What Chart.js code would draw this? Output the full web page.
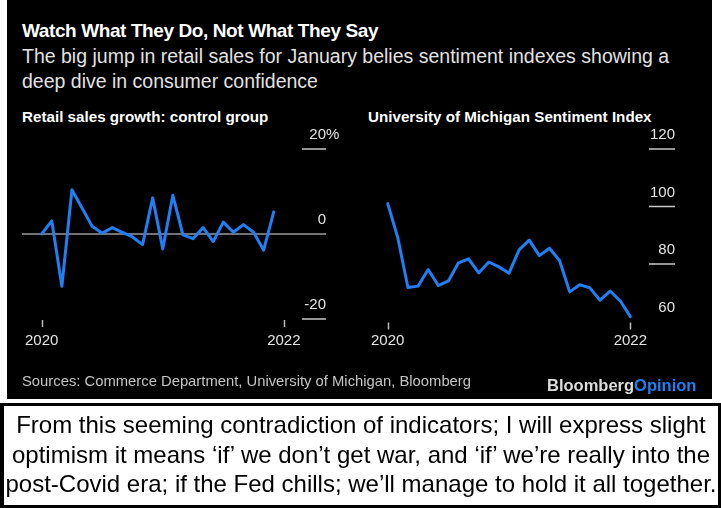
<!DOCTYPE html>
<html>
<head>
<meta charset="utf-8">
<script src="https://cdn.jsdelivr.net/npm/chart.js@4.4.1/dist/chart.umd.min.js"></script>
<style>
  html, body { margin: 0; padding: 0; background: #fff; }
  body { width: 721px; height: 508px; position: relative; overflow: hidden; font-family: "Liberation Sans", Arial, sans-serif; }
  .panel { position: absolute; left: 7px; top: 0; width: 705px; height: 399px; background: #000; }
  .txt { position: absolute; white-space: nowrap; }
  #title { left: 22px; top: 19px; font-size: 19px; font-weight: bold; color: #fff; line-height: 24px; letter-spacing: -0.4px; }
  #subtitle { left: 22px; top: 43.5px; font-size: 19.5px; color: #e2e2e2; line-height: 25px; }
  .ptitle { top: 108px; font-size: 15.2px; font-weight: bold; color: #fff; line-height: 18px; }
  #sources { left: 22px; top: 372px; font-size: 14.8px; color: #c4c4c4; line-height: 18px; }
  #brand { left: 547px; top: 375px; font-size: 16.5px; font-weight: bold; color: #dcdcdc; line-height: 20px; }
  #brand span { color: #1f7ff0; }
  canvas { position: absolute; top: 0; }
  #leftWrap { position: absolute; left: 0; top: 0; width: 360px; height: 400px; }
  #rightWrap { position: absolute; left: 360px; top: 0; width: 361px; height: 400px; }
  .box { position: absolute; left: 0; top: 403px; width: 714px; height: 99px; border-style: solid; border-color: #000;
         border-width: 3px 3px 6px 4px; background: #fff; }
  #caption { position: absolute; left: 0; top: 4px; width: 714px; text-align: center; font-family: "Liberation Sans Narrow", "Arial Narrow", sans-serif;
             font-size: 24px; line-height: 29.5px; color: #000; white-space: nowrap; }
</style>
</head>
<body>
<div class="panel"></div>
<div class="txt" id="title">Watch What They Do, Not What They Say</div>
<div class="txt" id="subtitle">The big jump in retail sales for January belies sentiment indexes showing a<br>deep dive in consumer confidence</div>
<div class="txt ptitle" style="left:22px">Retail sales growth: control group</div>
<div class="txt ptitle" style="left:368px">University of Michigan Sentiment Index</div>
<div id="leftWrap"><canvas id="salesChart"></canvas></div>
<div id="rightWrap"><canvas id="sentimentChart"></canvas></div>
<div class="txt" id="sources">Sources: Commerce Department, University of Michigan, Bloomberg</div>
<div class="txt" id="brand">Bloomberg<span>Opinion</span></div>
<div class="box">
  <div id="caption">From this seeming contradiction of indicators; I will express slight<br>optimism it means ‘if’ we don’t get war, and ‘if’ we’re really into the<br>post-Covid era; if the Fed chills; we’ll manage to hold it all together.</div>
</div>

<script>
// --- data ---
const salesMonths = ['Feb 20', 'Mar 20', 'Apr 20', 'May 20', 'Jun 20', 'Jul 20', 'Aug 20', 'Sep 20',
    'Oct 20', 'Nov 20', 'Dec 20', 'Jan 21', 'Feb 21', 'Mar 21', 'Apr 21', 'May 21', 'Jun 21', 'Jul 21',
    'Aug 21', 'Sep 21', 'Oct 21', 'Nov 21', 'Dec 21', 'Jan 22'];
const salesGrowth = [0.0, 3.1, -12.3, 10.4, 6.1, 1.8, 0.2, 1.5, 0.4, -0.7, -2.5, 8.5,
    -3.5, 9.1, -0.2, -1.1, 1.5, -1.8, 2.8, 0.4, 2.2, 0.4, -3.8, 5.2];

const sentimentMonths = ['Feb 20', 'Mar 20', 'Apr 20', 'May 20', 'Jun 20', 'Jul 20', 'Aug 20', 'Sep 20',
    'Oct 20', 'Nov 20', 'Dec 20', 'Jan 21', 'Feb 21', 'Mar 21', 'Apr 21', 'May 21', 'Jun 21', 'Jul 21',
    'Aug 21', 'Sep 21', 'Oct 21', 'Nov 21', 'Dec 21', 'Jan 22', 'Feb 22'];
const sentimentIndex = [101.0, 89.1, 71.8, 72.3, 78.1, 72.5, 74.1, 80.4, 81.8, 76.9, 80.7, 79.0,
    76.8, 84.9, 88.3, 82.9, 85.5, 81.2, 70.3, 72.8, 71.7, 67.4, 70.6, 67.2, 61.7];

// year ticks: position in months from Feb 2020
const yearTickLabels = ['2020', '2022'];
const yearTickIndex = [0, 24];

const salesTicks = [-20, 0, 20];
const sentimentTicks = [60, 80, 100, 120];

const LINE_BLUE = '#1f7ff3';

// --- plugin: Bloomberg style axes (labels sit above short rules on the right) ---
const bbgAxes = {
    id: 'bbgAxes',
    beforeDatasetsDraw(chart, args, opts) {
        const ctx = chart.ctx, area = chart.chartArea;
        const y = chart.scales.y, x = chart.scales.x;
        ctx.save();
        ctx.lineWidth = 1.5;
        opts.yTicks.forEach(v => {
            const py = y.getPixelForValue(v);
            if (v === 0 && opts.zeroLine) {
                ctx.strokeStyle = '#9a9a9a';
                ctx.beginPath(); ctx.moveTo(area.left, py); ctx.lineTo(area.right, py); ctx.stroke();
            } else if (!opts.noRule.includes(v)) {
                ctx.strokeStyle = '#c8c8c8';
                ctx.beginPath(); ctx.moveTo(area.right - opts.ruleLen, py); ctx.lineTo(area.right, py); ctx.stroke();
            }
        });
        // year ticks
        ctx.strokeStyle = '#bdbdbd';
        yearTickIndex.forEach(i => {
            const px = Math.round(x.getPixelForValue(i)) + 0.5;
            ctx.beginPath(); ctx.moveTo(px, area.bottom + 1); ctx.lineTo(px, area.bottom + 8); ctx.stroke();
        });
        ctx.restore();
    },
    afterDraw(chart, args, opts) {
        const ctx = chart.ctx, area = chart.chartArea;
        const y = chart.scales.y, x = chart.scales.x;
        ctx.save();
        ctx.font = '15px "Liberation Sans", Arial, sans-serif';
        ctx.fillStyle = '#e4e4e4';
        ctx.textBaseline = 'middle';
        opts.yTicks.forEach(v => {
            const py = y.getPixelForValue(v) - 14;
            ctx.textAlign = 'right';
            ctx.fillText(String(v), area.right, py);
            if (opts.suffixAt === v) {
                ctx.textAlign = 'left';
                ctx.fillText('%', area.right, py);
            }
        });
        ctx.textAlign = 'center';
        yearTickIndex.forEach((i, k) => {
            ctx.fillText(yearTickLabels[k], x.getPixelForValue(i), 341);
        });
        ctx.restore();
    }
};

function makeChart(id, months, values, yMin, yMax, xMax, padding, axisOpts) {
    const ctx = document.getElementById(id).getContext('2d');
    return new Chart(ctx, {
        type: 'line',
        data: {
            datasets: [{
                data: values.map((v, i) => ({ x: i, y: v, m: months[i] })),
                borderColor: LINE_BLUE,
                borderWidth: 3,
                borderJoinStyle: 'round',
                borderCapStyle: 'round',
                pointRadius: 0,
                fill: false,
                tension: 0
            }]
        },
        options: {
            responsive: true,
            maintainAspectRatio: false,
            animation: false,
            devicePixelRatio: 1,
            layout: { padding: padding, autoPadding: false },
            scales: {
                x: { type: 'linear', min: -1.95, max: xMax, display: false },
                y: { type: 'linear', min: yMin, max: yMax, display: false }
            },
            plugins: {
                legend: { display: false },
                tooltip: { enabled: false },
                bbgAxes: axisOpts
            }
        },
        plugins: [bbgAxes]
    });
}

// left chart: area x 22..326, y 149..319
makeChart('salesChart', salesMonths, salesGrowth, -20, 20, 28.18,
    { left: 22, right: 34, top: 149, bottom: 81 },
    { yTicks: salesTicks, zeroLine: true, noRule: [], ruleLen: 24, suffixAt: 20 });

// right chart: area x 368..675, y 149..321.5
makeChart('sentimentChart', sentimentMonths, sentimentIndex, 60, 120, 28.42,
    { left: 8, right: 46, top: 149, bottom: 78.5 },
    { yTicks: sentimentTicks, zeroLine: false, noRule: [60], ruleLen: 26, suffixAt: null });
</script>
</body>
</html>
